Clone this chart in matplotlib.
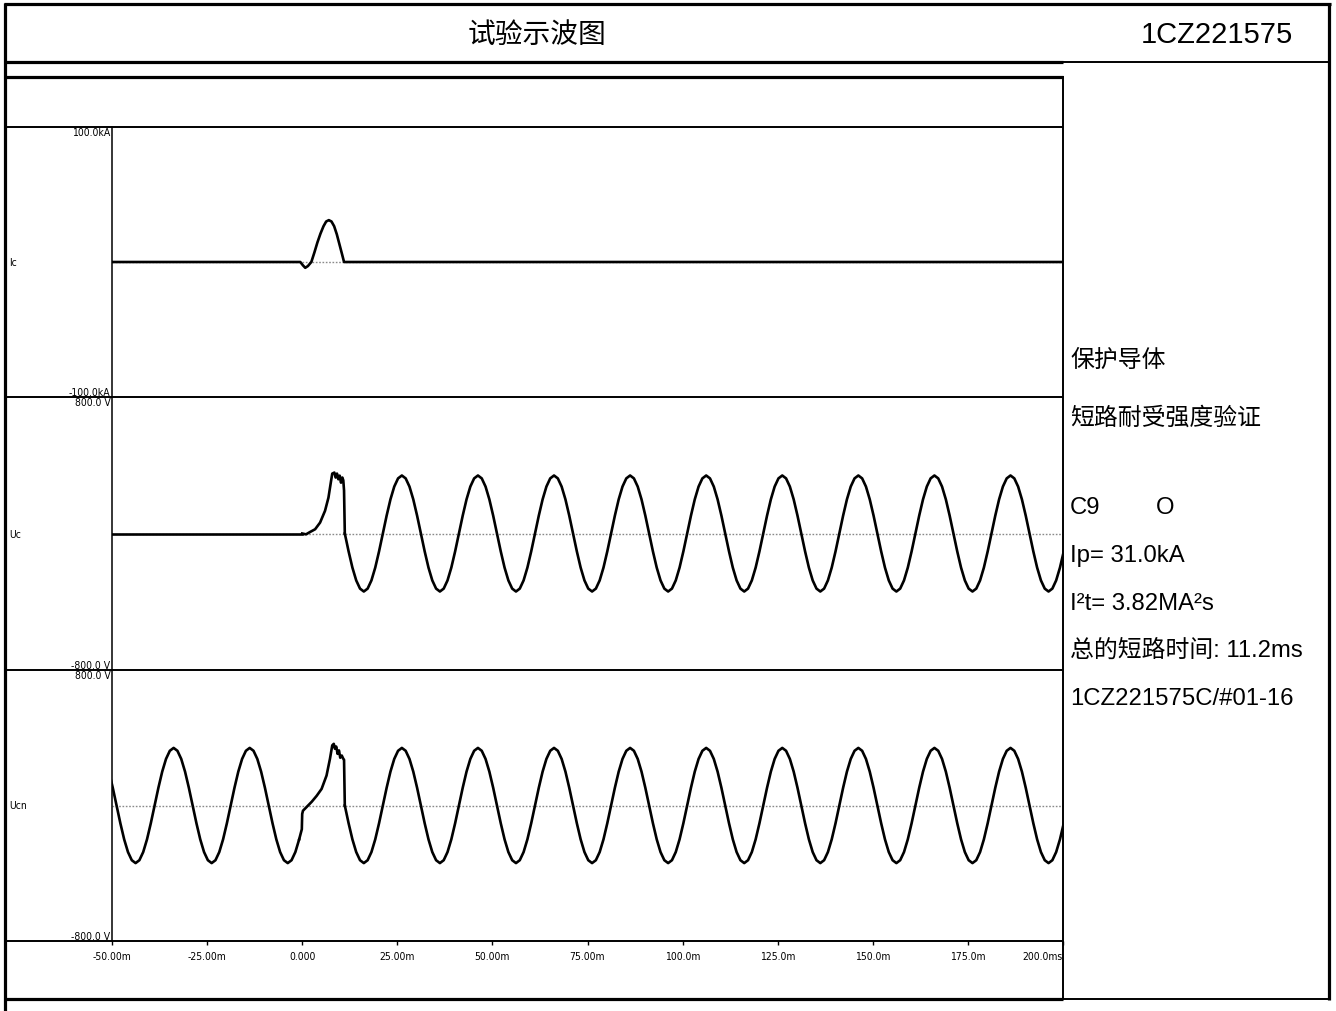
import numpy as np
import matplotlib
matplotlib.use("Agg")
import matplotlib.pyplot as plt

# ---------------- data ----------------
x_ticks = [-50, -25, 0, 25, 50, 75, 100, 125, 150, 175, 200]
x_tick_labels = ["-50.00m", "-25.00m", "0.000", "25.00m", "50.00m", "75.00m",
                 "100.0m", "125.0m", "150.0m", "175.0m", "200.0ms"]

channel_names = ["Ic", "Uc", "Ucn"]
y_ranges = [(-100.0, 100.0), (-800.0, 800.0), (-800.0, 800.0)]
y_labels = [("-100.0kA", "100.0kA"), ("-800.0 V", "800.0 V"), ("-800.0 V", "800.0 V")]

# Ic (kA) vs time (ms)
ic_t = [-50.0, -0.5, 0.2, 0.8, 1.5, 2.4, 3.2, 4.0, 4.8, 5.6, 6.3, 7.0,
        7.7, 8.4, 9.1, 9.8, 10.5, 11.0, 200.0]
ic_v = [0.0, 0.0, -2.5, -4.3, -3.0, 0.0, 7.0, 14.5, 21.0, 26.5, 30.0, 31.0,
        30.0, 26.5, 20.5, 13.0, 5.5, 0.0, 0.0]

# one 50 Hz cycle of the supply voltage (V), sampled every 1 ms starting at a crest
cycle_shape = [340, 323, 275, 200, 105, 0, -105, -200, -275, -323,
               -340, -323, -275, -200, -105, 0, 105, 200, 275, 323]
first_crest_ms = -53.8       # a crest (crests at 6.2 + 20k ms)
post_start_ms = 11.2         # end of short circuit (falling zero of the supply)

# Uc during the short (ms, V)
uc_pre_t = [-50.0, 0.0]
uc_pre_v = [0.0, 0.0]
uc_fault_t = [0.0, 1.0, 2.0, 3.4, 4.7, 6.0, 6.9, 7.6, 7.9, 8.45, 8.8, 9.15,
              9.5, 9.86, 10.2, 10.55, 10.8, 11.0, 11.2]
uc_fault_v = [0.0, -5.0, 8.0, 25.0, 64.0, 133.0, 210.0, 310.0, 351.0, 357.0,
              328.0, 351.0, 318.0, 339.0, 298.0, 328.0, 312.0, 252.0, 0.0]

# Ucn during the short (ms, V)
ucn_fault_t = [-0.1, 0.0, 0.2, 1.2, 2.5, 3.8, 5.1, 6.4, 7.3, 7.9, 8.3, 8.6,
               8.95, 9.3, 9.67, 10.0, 10.4, 10.8, 11.0, 11.2]
ucn_fault_v = [-140.0, -50.0, -31.0, -8.0, 22.0, 57.0, 98.0, 177.0, 276.0,
               355.0, 364.0, 335.0, 348.0, 305.0, 325.0, 282.0, 295.0, 276.0,
               270.0, 0.0]

info_lines = ["保护导体", "短路耐受强度验证", "C9", "Ip= 31.0kA",
              "I²t= 3.82MA²s", "总的短路时间: 11.2ms", "1CZ221575C/#01-16"]
title_text = "试验示波图"
report_no = "1CZ221575"

# ---------------- build sampled supply waveforms from the cycle ----------------
cycle = np.array(cycle_shape, dtype=float)
n_pre = int(round(-0.8 - first_crest_ms)) + 1          # samples up to -0.8 ms
ucn_pre_t = first_crest_ms + np.arange(n_pre)
ucn_pre_v = np.resize(cycle, n_pre)
offset = int(round(post_start_ms - first_crest_ms)) % 20
n_post = 192
post_t = post_start_ms + np.arange(n_post)
post_v = np.resize(np.roll(cycle, -offset), n_post)

# ---------------- figure / fonts ----------------
W, H = 1336, 1012
latin = "Liberation Sans"
mixed = [latin, "Noto Sans CJK SC", "DejaVu Sans"]
cjk_first = ["Noto Sans CJK SC", latin, "DejaVu Sans"]
small_font = dict(family="DejaVu Sans", stretch="condensed")

fig = plt.figure(figsize=(W / 100, H / 100), dpi=100)
fig.patch.set_facecolor("white")

X0, X1 = 112, 1063
panels_px = [(128, 398), (398, 671), (671, 942)]


def px_axes(x0, y0, x1, y1):
    return fig.add_axes([x0 / W, 1 - y1 / H, (x1 - x0) / W, (y1 - y0) / H])


axes = []
for i, (y0, y1) in enumerate(panels_px):
    ax = px_axes(X0, y0, X1, y1)
    ax.set_xlim(x_ticks[0], x_ticks[-1])
    ax.set_ylim(*y_ranges[i])
    for s in ["top", "right", "bottom"]:
        ax.spines[s].set_visible(False)
    ax.spines["left"].set_linewidth(1.1)
    ax.spines["left"].set_color("black")
    ax.set_yticks(list(y_ranges[i]))
    ax.set_yticklabels(list(y_labels[i]), fontsize=7.5, **small_font)
    ax.tick_params(axis="y", length=0, pad=1)
    tl = ax.get_yticklabels()
    tl[0].set_va("bottom")
    tl[1].set_va("top")
    ax.axhline(0, color="#8a8a8a", lw=1.0, ls=(0, (1.2, 1.2)), zorder=1)
    if i < 2:
        ax.set_xticks([])
    axes.append(ax)

ax_ic, ax_uc, ax_ucn = axes
tr = dict(color="black", lw=1.9, solid_joinstyle="round", zorder=3)

ax_ic.plot(ic_t, ic_v, **tr)

ax_uc.plot(uc_pre_t, uc_pre_v, **tr)
ax_uc.plot(uc_fault_t, uc_fault_v, **tr)
ax_uc.plot(post_t, post_v, **tr)

ax_ucn.plot(ucn_pre_t, ucn_pre_v, **tr)
ax_ucn.plot(np.r_[ucn_pre_t[-1], ucn_fault_t], np.r_[ucn_pre_v[-1], ucn_fault_v], **tr)
ax_ucn.plot(post_t, post_v, **tr)

ax_ucn.set_xticks(x_ticks)
ax_ucn.set_xticklabels(x_tick_labels, fontsize=7.5, **small_font)
ax_ucn.tick_params(axis="x", direction="out", length=3, width=1, pad=4)
ax_ucn.get_xticklabels()[-1].set_ha("right")

for ax in axes:
    for lab in ax.get_xticklabels() + ax.get_yticklabels():
        lab.set_clip_on(False)

# ---------------- frame (layout lines and texts, pixel coords) ----------------
frame = fig.add_axes([0, 0, 1, 1], zorder=10)
frame.set_xlim(0, W)
frame.set_ylim(H, 0)
frame.axis("off")


def hline(y, x0, x1, lw):
    frame.plot([x0, x1], [y, y], color="black", lw=lw, solid_capstyle="butt")


def vline(x, y0, y1, lw):
    frame.plot([x, x], [y0, y1], color="black", lw=lw, solid_capstyle="butt")


thick, thin = 2.3, 1.4
hline(5, 4, 1331, thick)
vline(5, 4, H, thick)
vline(1329, 4, 1001, thick)
hline(63, 4, 1063, thick)
hline(63, 1063, 1331, thin)
hline(78, 4, 1063, thick)
vline(1063, 77, 1001, thin)
hline(1000, 4, 1063, thick)
hline(1000, 1063, 1331, thin)
for y in (128, 398, 671, 942):
    hline(y, 4, 1063, thin)

frame.text(537, 35, title_text, ha="center", va="center", fontsize=20, family=cjk_first)
frame.text(1217, 35, report_no, ha="center", va="center", fontsize=21, family=latin)

for name, (y0, y1) in zip(channel_names, panels_px):
    frame.text(9, (y0 + y1) / 2, name, ha="left", va="center", fontsize=7.5, **small_font)

info_y = [361, 418, 508, 556, 604, 651, 699]
for txt, y in zip(info_lines, info_y):
    frame.text(1070, y, txt, ha="left", va="center", fontsize=17.2, family=mixed)
frame.text(1156, 508, "O", ha="left", va="center", fontsize=17.2, family=mixed)

fig.savefig("out.png", dpi=100, facecolor="white")
